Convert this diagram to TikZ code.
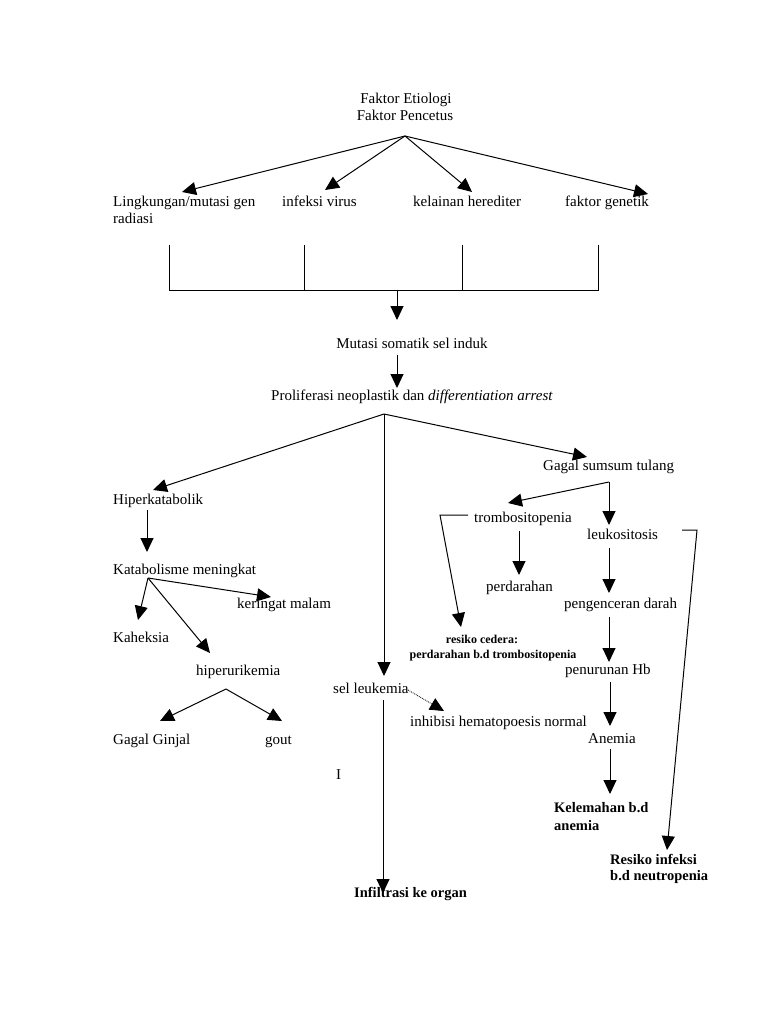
\documentclass[tikz,border=0pt]{standalone}
\usepackage{fontspec}
\setmainfont{Liberation Serif}
\usetikzlibrary{arrows.meta}
\tikzset{
  conn/.style={line width=1pt, draw=black},
  arr/.style={conn, -{Triangle[length=14pt,width=13pt]}},
  lbl/.style={inner sep=0pt, anchor=west, text height=11pt, text depth=3pt, font=\fontsize{15}{17}\selectfont},
  clbl/.style={lbl, anchor=center},
  blbl/.style={lbl, font=\fontsize{14.5}{17}\selectfont\bfseries},
  slbl/.style={inner sep=0pt, anchor=center, text height=9pt, text depth=2pt, font=\fontsize{12}{14}\selectfont\bfseries},
}
\begin{document}
\begin{tikzpicture}[x=1pt,y=-1pt]
\useasboundingbox[fill=white] (0,0) rectangle (768,1024);

% ---- labels ----
\node[clbl] (etio) at (406,100) {Faktor Etiologi};
\node[clbl] (pencetus) at (405,117) {Faktor Pencetus};
\node[lbl] (lingk) at (113,203) {Lingkungan/mutasi gen};
\node[lbl] (radiasi) at (113,220) {radiasi};
\node[lbl] (infeksi) at (282,203) {infeksi virus};
\node[lbl] (kelainan) at (413,203) {kelainan herediter};
\node[lbl] (genetik) at (565,203) {faktor genetik};
\node[clbl] (mutasi) at (412,344) {Mutasi somatik sel induk};
\node[clbl] (prolif) at (412,396) {Proliferasi neoplastik dan \textit{differentiation arrest}};
\node[lbl] (hiper) at (113,500) {Hiperkatabolik};
\node[lbl] (katab) at (113,570) {Katabolisme meningkat};
\node[lbl] (keringat) at (237,604) {keringat malam};
\node[lbl] (kaheksia) at (113,638) {Kaheksia};
\node[lbl] (hiperu) at (196,671) {hiperurikemia};
\node[lbl] (ginjal) at (113,740) {Gagal Ginjal};
\node[lbl] (gout) at (265,740) {gout};
\node[lbl] (gagal) at (543,466) {Gagal sumsum tulang};
\node[lbl] (trombo) at (474,518) {trombositopenia};
\node[lbl] (leuko) at (587,535) {leukositosis};
\node[lbl] (perdarahan) at (486,587) {perdarahan};
\node[lbl] (pengenceran) at (564,604) {pengenceran darah};
\node[slbl] (cedera) at (482,640) {resiko cedera:};
\node[slbl] (cedera2) at (493,655) {perdarahan b.d trombositopenia};
\node[lbl] (penurunan) at (565,670) {penurunan Hb};
\node[lbl] (selleuk) at (333,689) {sel leukemia};
\node[lbl] (inhibisi) at (410,722) {inhibisi hematopoesis normal};
\node[lbl] (anemia) at (588,739) {Anemia};
\node[lbl] (iletter) at (336,775) {I};
\node[blbl] (lemah) at (554,808) {Kelemahan b.d};
\node[blbl] (lemah2) at (554,826) {anemia};
\node[blbl] (infeksi2) at (610,860) {Resiko infeksi};
\node[blbl] (infeksi3) at (610,876) {b.d neutropenia};
\node[blbl] (infiltrasi) at (354,893) {Infiltrasi ke organ};

% ---- connector points ----
\coordinate (fk) at (405,136);
\coordinate (t1) at (182,192);
\coordinate (t2) at (325,190);
\coordinate (t3) at (472,192);
\coordinate (t4) at (648,194);
\coordinate (b1t) at (169,245); \coordinate (b1) at (169,290);
\coordinate (b2t) at (304,245); \coordinate (b2) at (304,290);
\coordinate (b3t) at (462,245); \coordinate (b3) at (462,290);
\coordinate (b4t) at (598,245); \coordinate (b4) at (598,290);
\coordinate (bm) at (397,290); \coordinate (bmt) at (397,320);
\coordinate (ms) at (397,355); \coordinate (mt) at (397,388);
\coordinate (pr) at (384,414);
\coordinate (prh) at (153,490);
\coordinate (prs) at (384,676);
\coordinate (prg) at (587,457);
\coordinate (hs) at (147,510); \coordinate (ht) at (147,552);
\coordinate (ks) at (148,578);
\coordinate (kk) at (138,620);
\coordinate (kr) at (271,597);
\coordinate (ku) at (210,653);
\coordinate (us) at (226,689);
\coordinate (ug) at (160,721);
\coordinate (uo) at (282,721);
\coordinate (gs) at (609,482);
\coordinate (gt) at (508,503);
\coordinate (gl) at (609,525);
\coordinate (tb1) at (468,515); \coordinate (tb2) at (440,515); \coordinate (tb3) at (461,627);
\coordinate (tp1) at (519,531); \coordinate (tp2) at (519,575);
\coordinate (lb1) at (682,530); \coordinate (lb2) at (697,530); \coordinate (lb3) at (667,850);
\coordinate (lp1) at (609,548); \coordinate (lp2) at (609,593);
\coordinate (pp1) at (609,617); \coordinate (pp2) at (609,662);
\coordinate (pa1) at (610,682); \coordinate (pa2) at (610,726);
\coordinate (ak1) at (610,749); \coordinate (ak2) at (610,794);
\coordinate (sd1) at (408,690); \coordinate (sd2) at (444,711);
\coordinate (si1) at (383,700); \coordinate (si2) at (383,893);

% ---- connectors ----
\draw[arr] (fk) -- (t1);
\draw[arr] (fk) -- (t2);
\draw[arr] (fk) -- (t3);
\draw[arr] (fk) -- (t4);
\draw[conn] (b1t) -- (b1) -- (b4) -- (b4t);
\draw[conn] (b2t) -- (b2);
\draw[conn] (b3t) -- (b3);
\draw[arr] (bm) -- (bmt);
\draw[arr] (ms) -- (mt);
\draw[arr] (pr) -- (prh);
\draw[arr] (pr) -- (prs);
\draw[arr] (pr) -- (prg);
\draw[arr] (hs) -- (ht);
\draw[arr] (ks) -- (kk);
\draw[arr] (ks) -- (kr);
\draw[arr] (ks) -- (ku);
\draw[arr] (us) -- (ug);
\draw[arr] (us) -- (uo);
\draw[arr] (gs) -- (gt);
\draw[arr] (gs) -- (gl);
\draw[arr] (tb1) -- (tb2) -- (tb3);
\draw[arr] (tp1) -- (tp2);
\draw[arr] (lb1) -- (lb2) -- (lb3);
\draw[arr] (lp1) -- (lp2);
\draw[arr] (pp1) -- (pp2);
\draw[arr] (pa1) -- (pa2);
\draw[arr] (ak1) -- (ak2);
\draw[line width=0.8pt, densely dotted, -{Triangle[length=14pt,width=13pt]}] (sd1) -- (sd2);
\draw[arr] (si1) -- (si2);
\end{tikzpicture}
\end{document}
